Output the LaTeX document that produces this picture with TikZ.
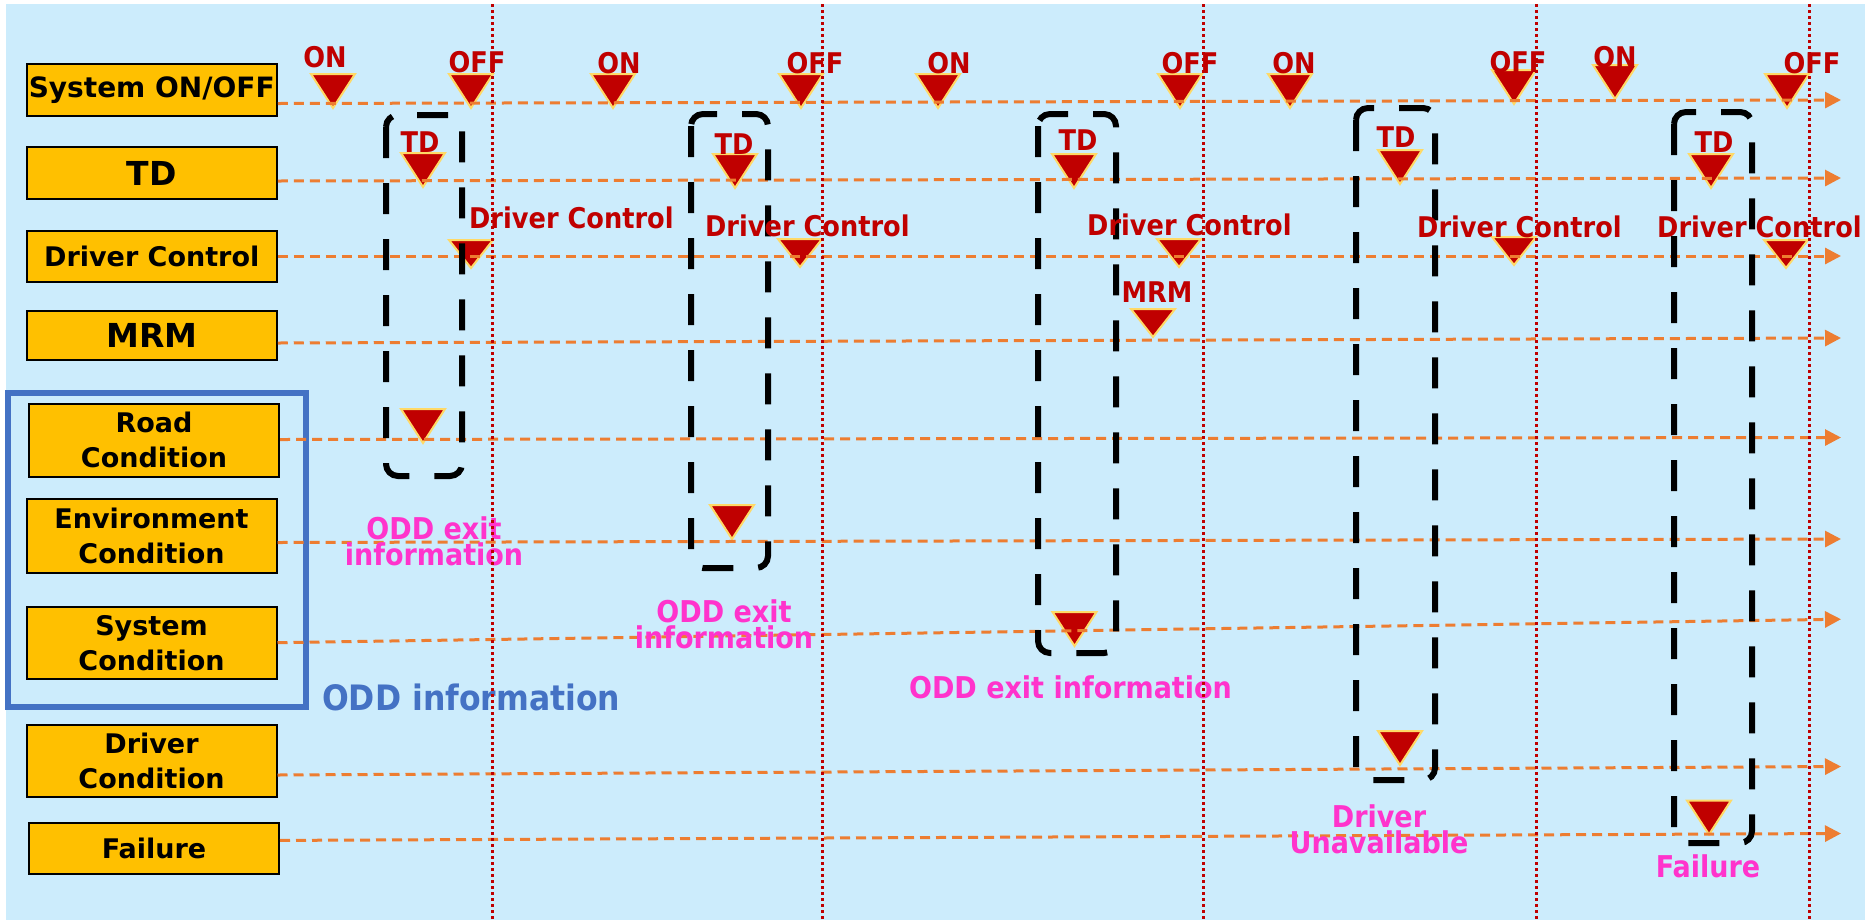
\documentclass[tikz,border=0pt]{standalone}
\usepackage{fontspec}
\setmainfont{DejaVu Sans}
\newfontfamily\narrowfont{DejaVu Sans}[FakeStretch=0.9]
\usetikzlibrary{arrows.meta}
\definecolor{Sky}{HTML}{CCECFC}
\definecolor{Amber}{HTML}{FFC000}
\definecolor{Crimson}{HTML}{C00000}
\definecolor{Pale}{HTML}{FFD966}
\definecolor{Tangerine}{HTML}{ED7D31}
\definecolor{Steel}{HTML}{4472C4}
\definecolor{Magenta}{HTML}{FF33CC}
\tikzset{pics/tri/.style={code={\draw[fill=Crimson,draw=Pale,line width=2pt] (-22,-#1) -- (22,-#1) -- (0,0) -- cycle;}},
  pics/tri/.default=34}

\begin{document}
\begin{tikzpicture}[x=1pt,y=-1pt,
  lane/.style={draw=black,line width=2pt,fill=Amber,inner sep=0pt,minimum width=250pt,align=center,font=\bfseries\fontsize{27}{35}\selectfont},
  timeline/.style={Tangerine,line width=3pt,dash pattern=on 10pt off 6pt,-{Triangle[length=16pt,width=16pt]}},
  cut/.style={Crimson,line width=3pt,dash pattern=on 3pt off 3pt},
  group/.style={black,line width=6pt,dash pattern=on 31pt off 25pt,rounded corners=12pt},
  evt/.style={text=Crimson,inner sep=0pt,font=\narrowfont\bfseries\fontsize{28.5}{28}\selectfont},
  note/.style={text=Magenta,inner sep=0pt,align=center,font=\narrowfont\bfseries\fontsize{30}{26}\selectfont}]
  \useasboundingbox (0,0) rectangle (1869,922);
  \fill[Sky] (6,4) rectangle (1865,920);
  % signal boxes
  \node[lane,minimum height=52pt,font=\bfseries\fontsize{28}{34}\selectfont] (sys) at (151.75,90) {System ON/OFF};
  \node[lane,minimum height=52pt,font=\bfseries\fontsize{33}{34}\selectfont] (td) at (151.75,173) {TD};
  \node[lane,minimum height=51pt] (dc) at (151.75,256.5) {Driver Control};
  \node[lane,minimum height=49pt,font=\bfseries\fontsize{33}{34}\selectfont] (mrm) at (151.75,335.5) {MRM};
  \node[lane,minimum height=73pt] (road) at (154,440) {Road\\Condition};
  \node[lane,minimum height=74pt] (env) at (151.5,536) {Environment\\Condition};
  \node[lane,minimum height=72pt] (syscond) at (151.5,643) {System\\Condition};
  \node[lane,minimum height=72pt] (drv) at (151.5,761) {Driver\\Condition};
  \node[lane,minimum height=51pt] (fail) at (154,848.5) {Failure};
  \draw[Steel,line width=6pt] (8,393) rectangle (306,707);
  \node[text=Steel,inner sep=0pt,anchor=base west,font=\narrowfont\bfseries\fontsize{35}{35}\selectfont] (oddinfo) at (322,710) {ODD information};
  % markers
  \foreach \x/\y in {333/108,471/108,613/108,801/108,938/108,1180/108,1290/108,1514/104,1615/99,1787/108,
    423/187,735/188,1074/188,1400/184,1711/188,423/443,732/539,1074.5/646,1400/765,1709/834.5}
    \pic at (\x,\y) {tri};
  \foreach \x/\y in {471/268,800/267,1179/267,1514/265,1786/268,1153/337}
    \pic at (\x,\y) {tri=28};
  % time lines
  \foreach \n/\a/\b in {sys/103.5/100,td/181/178,dc/256/256,mrm/343/338,road/439.5/437.5,
    env/542.5/539,syscond/642.7/619.2,drv/775/766.5,fail/840.4/833.5}
    \draw[timeline] (\n.east |- 0,\a) -- (1841,\b) coordinate (\n-end);
  % transition groups
  \draw[group] (386,115) rectangle (462,476);
  \draw[group] (691,114) rectangle (768,568);
  \draw[group] (1038,114) rectangle (1116,653);
  \draw[group] (1356,108) rectangle (1435,780);
  \draw[group] (1674,112) rectangle (1752,843);
  % labels
  \foreach \x/\y/\t in {325/67/ON,477/72/OFF,619/73/ON,815/73/OFF,949/73/ON,1190/73/OFF,
    1294/73/ON,1518/72/OFF,1615/67/ON,1812/73/OFF}
    \node[evt,anchor=base] (sw-\x) at (\x,\y) {\t};
  \foreach \x/\y in {420/152,734/154,1078/150,1396/147,1714/152}
    \node[evt,anchor=base] (td-\x) at (\x,\y) {TD};
  \foreach \x/\y in {469/228,705/236,1087/235,1417/237,1657/237}
    \node[evt,anchor=base west] (dc-\x) at (\x,\y) {Driver Control};
  \node[evt,anchor=base] (mrm-lbl) at (1157,302) {MRM};
  \node[note] (exit1) at (434,541) {ODD exit\\information};
  \node[note] (exit2) at (724,624) {ODD exit\\information};
  \node[note,anchor=base] (exit3) at (1070.5,698) {ODD exit information};
  \node[note] (unavail) at (1379,829) {Driver\\Unavailable};
  \node[note,anchor=base] (faillbl) at (1708,877) {Failure};
  % mode boundaries
  \foreach \x in {492,822,1203,1536,1809}
    \draw[cut] (\x,4) -- (\x,920);
\end{tikzpicture}
\end{document}
